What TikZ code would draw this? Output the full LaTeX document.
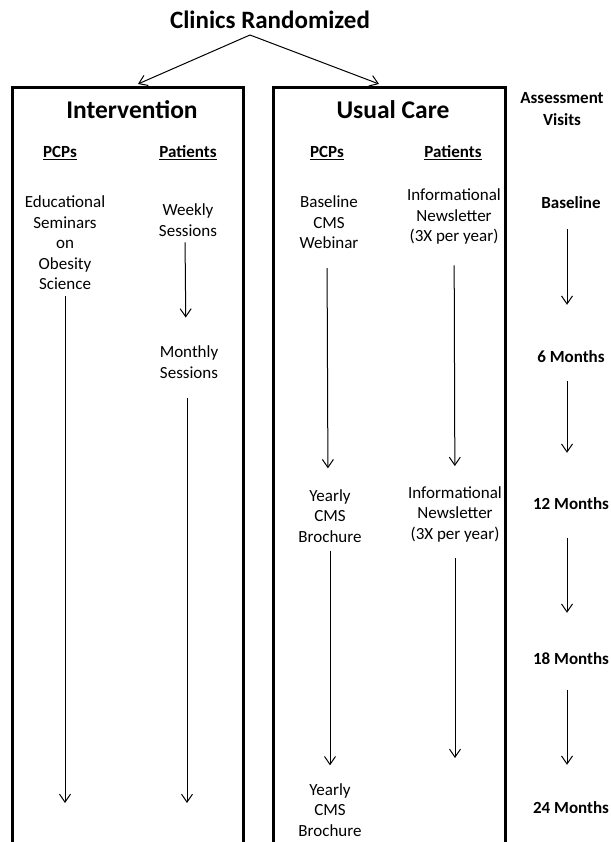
\documentclass[tikz,border=0pt]{standalone}
\usepackage{fontspec}
\setmainfont{Carlito}
\usetikzlibrary{arrows.meta,positioning}

\tikzset{
  txt/.style={align=center, inner sep=0pt, font=\fontsize{17}{20.5}\selectfont},
  hdr/.style={align=center, inner sep=0pt, font=\fontsize{17}{21.5}\selectfont\bfseries},
  armtitle/.style={inner sep=0pt, font=\fontsize{25.5}{30}\selectfont\bfseries},
  visit/.style={inner sep=0pt, text height=12pt, text depth=0pt, font=\fontsize{17}{20.5}\selectfont\bfseries},
  flow/.style={-{Straight Barb[length=8pt,width=11pt]}, line width=1pt},
  panel/.style={line width=3pt}
}

\begin{document}
\begin{tikzpicture}[x=1pt,y=-1pt]
    \useasboundingbox (0,0) rectangle (610,842);
    % randomisation
    \node[inner sep=0pt, font=\fontsize{25}{30}\selectfont\bfseries] (rand) at (270,20) {Clinics Randomized};
    \coordinate (fork) at (250,35);
    \coordinate (intIn) at (138,84);
    \coordinate (ucIn) at (379,84);
    \draw[flow] (fork) -- (intIn);
    \draw[flow] (fork) -- (ucIn);
    % the two arms
    \draw[panel] (12,842) -- (12,88) -- (243,88) -- (243,842);
    \draw[panel] (273,842) -- (273,88) -- (505,88) -- (505,842);
    \node[armtitle] (int) at (132,110) {Intervention};
    \node[armtitle] (uc) at (393,110) {Usual Care};
    \node[hdr] (assess) at (562,109) {Assessment\\Visits};
    \foreach \name/\x in {intPcp/60,ucPcp/327} {
            \node[hdr] (\name) at (\x,153) {\underline{PCPs}};
        }
    \foreach \name/\x in {intPat/188,ucPat/453} {
            \node[hdr] (\name) at (\x,153) {\underline{Patients}};
        }
    % intervention arm
    \node[txt] (edu) at (65,243) {Educational\\Seminars\\on\\Obesity\\Science};
    \node[txt] (weekly) at (188,220) {Weekly\\Sessions};
    \node[txt] (monthly) at (189,362) {Monthly\\Sessions};
    \coordinate (eduEnd) at (edu.south |- 0,803);
    \coordinate (monEnd) at ([xshift=-2pt]monthly.south |- 0,803);
    \draw[flow, shorten <=6pt] (edu) -- (eduEnd);
    \draw[flow, shorten <=6pt, shorten >=28pt] ([xshift=-3pt]weekly.south) -- ([xshift=-3pt]monthly.north);
    \draw[flow, shorten <=20pt] ([xshift=-2pt]monthly.south) -- (monEnd);
    % usual care arm
    \node[txt] (webinar) at (329,222.5) {Baseline\\CMS\\Webinar};
    \node[txt] (newsA) at (454,216.5) {Informational\\Newsletter\\(3X per year)};
    \node[txt] (brochA) at (330,516) {Yearly\\CMS\\Brochure};
    \node[txt] (newsB) at (455,514) {Informational\\Newsletter\\(3X per year)};
    \node[txt] (brochB) at (330,810) {Yearly\\CMS\\Brochure};
    \coordinate (newsEnd) at (newsB.south |- 0,758);
    \draw[flow, shorten <=19pt, shorten >=21pt] ([xshift=-2pt]webinar.south) -- ([xshift=-2pt]brochA.north);
    \draw[flow, shorten <=21pt, shorten >=20pt] (newsA) -- (newsB);
    \draw[flow, shorten <=8pt, shorten >=18pt] (brochA) -- (brochB);
    \draw[flow, shorten <=16pt] (newsB) -- (newsEnd);
    % assessment visits
    \foreach \name/\y/\lab in {m0/202/Baseline,m6/356/6 Months,m12/503/12 Months,m18/658/18 Months,m24/807/24 Months} {
            \node[visit] (\name) at (571,\y) {\lab};
        }
    \foreach \a/\b/\s/\e in {m0/m6/21/45,m6/m12/19/44,m12/m18/29/39,m18/m24/26/36} {
            \draw[flow, shorten <=\s pt, shorten >=\e pt] ([xshift=-4pt]\a.south) -- ([xshift=-4pt]\b.north);
        }
\end{tikzpicture}
\end{document}
